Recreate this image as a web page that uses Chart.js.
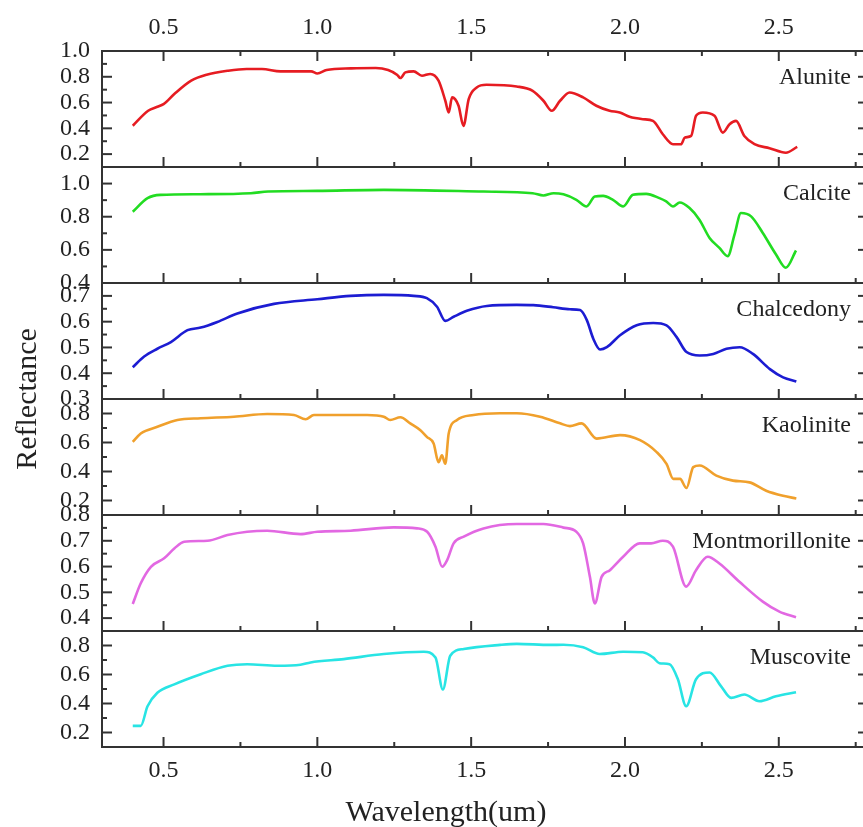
<!DOCTYPE html>
<html>
<head>
<meta charset="utf-8">
<title>Mineral reflectance spectra</title>
<script src="https://cdn.jsdelivr.net/npm/chart.js@4.4.1/dist/chart.umd.min.js"></script>
<style>
  html, body { margin: 0; padding: 0; background: #fff; overflow: hidden; }
  #wrap { position: relative; width: 863px; height: 827px; overflow: hidden; }
  canvas { display: block; }
</style>
</head>
<body>
<div id="wrap"><canvas id="chart" width="880" height="827"></canvas></div>
<script>
//////////////////////
// Spectra (wavelength in um, reflectance)
//////////////////////
const minerals = ['Alunite', 'Calcite', 'Chalcedony', 'Kaolinite', 'Montmorillonite', 'Muscovite'];
const lineColors = ['#e61c22', '#22dc22', '#1c1cd2', '#f0a02c', '#e268e2', '#28e4e4'];

const alunite_wl = [0.40, 0.45, 0.48, 0.50, 0.535, 0.59, 0.64, 0.71, 0.77, 0.82, 0.88, 0.95, 0.98, 1.00, 1.03, 1.11, 1.19, 1.23, 1.26, 1.27, 1.286, 1.313, 1.34, 1.367, 1.394, 1.416, 1.427, 1.438, 1.459, 1.475, 1.492, 1.518, 1.55, 1.648, 1.70, 1.735, 1.762, 1.789, 1.82, 1.864, 1.907, 1.95, 1.983, 2.015, 2.058, 2.091, 2.123, 2.156, 2.183, 2.194, 2.215, 2.231, 2.253, 2.291, 2.318, 2.34, 2.361, 2.388, 2.421, 2.47, 2.523, 2.56];
const alunite_r  = [0.42, 0.536, 0.567, 0.588, 0.666, 0.77, 0.816, 0.847, 0.86, 0.86, 0.842, 0.842, 0.842, 0.826, 0.852, 0.865, 0.868, 0.852, 0.814, 0.79, 0.834, 0.842, 0.808, 0.822, 0.77, 0.614, 0.523, 0.64, 0.575, 0.419, 0.627, 0.717, 0.738, 0.725, 0.691, 0.614, 0.536, 0.614, 0.678, 0.64, 0.575, 0.536, 0.523, 0.489, 0.471, 0.458, 0.354, 0.277, 0.277, 0.328, 0.341, 0.497, 0.523, 0.497, 0.367, 0.432, 0.458, 0.341, 0.277, 0.246, 0.211, 0.256];

const calcite_wl = [0.40, 0.448, 0.49, 0.62, 0.784, 0.84, 1.0, 1.216, 1.54, 1.70, 1.735, 1.768, 1.80, 1.842, 1.875, 1.902, 1.929, 1.961, 1.994, 2.026, 2.069, 2.112, 2.134, 2.156, 2.178, 2.21, 2.242, 2.275, 2.307, 2.334, 2.356, 2.377, 2.41, 2.448, 2.491, 2.523, 2.556];
const calcite_r  = [0.83, 0.912, 0.932, 0.936, 0.942, 0.952, 0.956, 0.962, 0.952, 0.942, 0.928, 0.942, 0.935, 0.902, 0.862, 0.922, 0.926, 0.902, 0.862, 0.932, 0.938, 0.912, 0.892, 0.862, 0.886, 0.852, 0.782, 0.672, 0.612, 0.562, 0.692, 0.822, 0.802, 0.702, 0.572, 0.492, 0.596];

const chalcedony_wl = [0.40, 0.437, 0.48, 0.524, 0.578, 0.621, 0.675, 0.74, 0.859, 1.0, 1.108, 1.216, 1.313, 1.356, 1.389, 1.416, 1.443, 1.486, 1.551, 1.648, 1.702, 1.767, 1.821, 1.854, 1.876, 1.897, 1.919, 1.941, 1.984, 2.038, 2.092, 2.135, 2.168, 2.20, 2.243, 2.287, 2.33, 2.373, 2.416, 2.471, 2.514, 2.557];
const chalcedony_r  = [0.423, 0.465, 0.495, 0.521, 0.567, 0.577, 0.599, 0.632, 0.669, 0.687, 0.70, 0.704, 0.70, 0.691, 0.658, 0.603, 0.619, 0.642, 0.661, 0.665, 0.664, 0.656, 0.648, 0.645, 0.606, 0.534, 0.492, 0.501, 0.547, 0.586, 0.595, 0.586, 0.54, 0.482, 0.469, 0.475, 0.495, 0.501, 0.475, 0.416, 0.384, 0.368];

const kaolinite_wl = [0.40, 0.426, 0.48, 0.545, 0.621, 0.729, 0.837, 0.924, 0.962, 0.989, 1.162, 1.216, 1.237, 1.27, 1.302, 1.335, 1.356, 1.378, 1.394, 1.405, 1.416, 1.427, 1.454, 1.508, 1.594, 1.648, 1.724, 1.789, 1.821, 1.859, 1.908, 1.984, 2.049, 2.103, 2.135, 2.157, 2.179, 2.20, 2.222, 2.243, 2.297, 2.351, 2.405, 2.459, 2.514, 2.557];
const kaolinite_r  = [0.604, 0.662, 0.708, 0.755, 0.767, 0.778, 0.797, 0.79, 0.76, 0.79, 0.79, 0.778, 0.755, 0.774, 0.732, 0.685, 0.639, 0.593, 0.464, 0.511, 0.453, 0.662, 0.755, 0.79, 0.802, 0.802, 0.778, 0.732, 0.713, 0.732, 0.627, 0.651, 0.616, 0.534, 0.453, 0.349, 0.349, 0.286, 0.43, 0.441, 0.372, 0.337, 0.325, 0.267, 0.232, 0.214];

const montmorillonite_wl = [0.40, 0.426, 0.459, 0.502, 0.535, 0.567, 0.643, 0.708, 0.772, 0.837, 0.945, 1.0, 1.108, 1.248, 1.324, 1.357, 1.384, 1.406, 1.422, 1.443, 1.476, 1.54, 1.648, 1.735, 1.80, 1.842, 1.864, 1.886, 1.902, 1.924, 1.951, 1.994, 2.048, 2.085, 2.123, 2.156, 2.199, 2.231, 2.269, 2.307, 2.372, 2.448, 2.502, 2.556];
const montmorillonite_r  = [0.455, 0.535, 0.599, 0.632, 0.67, 0.696, 0.70, 0.722, 0.735, 0.739, 0.726, 0.735, 0.739, 0.752, 0.748, 0.735, 0.677, 0.599, 0.625, 0.69, 0.716, 0.748, 0.765, 0.765, 0.751, 0.735, 0.69, 0.56, 0.457, 0.56, 0.586, 0.638, 0.69, 0.69, 0.70, 0.677, 0.522, 0.586, 0.638, 0.612, 0.541, 0.464, 0.425, 0.403];

const muscovite_wl = [0.40, 0.426, 0.448, 0.48, 0.535, 0.621, 0.708, 0.772, 0.87, 0.945, 0.978, 1.086, 1.216, 1.346, 1.384, 1.408, 1.432, 1.476, 1.594, 1.648, 1.757, 1.80, 1.864, 1.918, 1.994, 2.058, 2.091, 2.112, 2.145, 2.172, 2.199, 2.231, 2.275, 2.312, 2.345, 2.388, 2.437, 2.491, 2.556];
const muscovite_r  = [0.246, 0.246, 0.381, 0.474, 0.532, 0.602, 0.66, 0.671, 0.66, 0.667, 0.683, 0.706, 0.741, 0.757, 0.718, 0.497, 0.729, 0.776, 0.804, 0.811, 0.804, 0.805, 0.788, 0.741, 0.757, 0.753, 0.718, 0.678, 0.671, 0.567, 0.381, 0.567, 0.614, 0.52, 0.439, 0.462, 0.416, 0.45, 0.478];

const wavelengths = [alunite_wl, calcite_wl, chalcedony_wl, kaolinite_wl, montmorillonite_wl, muscovite_wl];
const reflectances = [alunite_r, calcite_r, chalcedony_r, kaolinite_r, montmorillonite_r, muscovite_r];

//////////////////////
// Axis ranges and ticks
//////////////////////
const xMin = 0.3, xMax = 2.79;
const xMajorTicks = [0.5, 1.0, 1.5, 2.0, 2.5];
const xMinorTicks = [0.75, 1.25, 1.75, 2.25, 2.75];

// one entry per panel, top to bottom
const yMin = [0.1, 0.4, 0.3, 0.1, 0.35, 0.1];
const yMax = [1.0, 1.1, 0.75, 0.9, 0.8, 0.9];
const yMajorTicks = [
    [0.2, 0.4, 0.6, 0.8, 1.0],
    [0.4, 0.6, 0.8, 1.0],
    [0.3, 0.4, 0.5, 0.6, 0.7],
    [0.2, 0.4, 0.6, 0.8],
    [0.4, 0.5, 0.6, 0.7, 0.8],
    [0.2, 0.4, 0.6, 0.8]
];
const yMinorTicks = [
    [0.3, 0.5, 0.7, 0.9],
    [0.5, 0.7, 0.9, 1.1],
    [0.35, 0.45, 0.55, 0.65, 0.75],
    [0.3, 0.5, 0.7],
    [0.45, 0.55, 0.65, 0.75],
    [0.3, 0.5, 0.7]
];

//////////////////////
// Look
//////////////////////
const serif = '"Liberation Serif", "Times New Roman", serif';
const inkColor = '#222';
const frameColor = '#333';
const majorLen = 10, minorLen = 5;

function setTicks(scale, majors, minors) {
    scale.ticks = majors.map(v => ({ value: v }))
        .concat(minors.map(v => ({ value: v, isMinor: true })))
        .sort((a, b) => a.value - b.value);
}

function tickLabel(value, index, ticks) {
    return ticks[index].isMinor ? '' : value.toFixed(1);
}

//////////////////////
// Scales: shared wavelength axis plus one stacked y axis per mineral
//////////////////////
const tickFont = { family: serif, size: 24 };

const scales = {
    x: {
        type: 'linear', position: 'bottom', min: xMin, max: xMax,
        afterBuildTicks: s => setTicks(s, xMajorTicks, xMinorTicks),
        afterFit: s => { s.height = 80; },
        grid: { display: false, drawTicks: false }, border: { display: false },
        ticks: { font: tickFont, color: inkColor, padding: 9, autoSkip: false, maxRotation: 0, callback: tickLabel }
    },
    xTop: {
        type: 'linear', position: 'top', min: xMin, max: xMax,
        afterBuildTicks: s => setTicks(s, xMajorTicks, xMinorTicks),
        afterFit: s => { s.height = 51; },
        grid: { display: false, drawTicks: false }, border: { display: false },
        ticks: { font: tickFont, color: inkColor, padding: 9, autoSkip: false, maxRotation: 0, callback: tickLabel }
    }
};

minerals.forEach((name, i) => {
    scales['y' + i] = {
        type: 'linear', position: 'left',
        stack: 'panels', stackWeight: 1, weight: minerals.length - i,
        min: yMin[i], max: yMax[i],
        afterBuildTicks: s => setTicks(s, yMajorTicks[i], yMinorTicks[i]),
        afterFit: s => { s.width = 102; },
        grid: { display: false, drawTicks: false }, border: { display: false },
        ticks: { font: tickFont, color: inkColor, padding: 12, autoSkip: false, callback: tickLabel }
    };
});

const datasets = minerals.map((name, i) => ({
    label: name,
    data: wavelengths[i].map((w, k) => ({ x: w, y: reflectances[i][k] })),
    xAxisID: 'x',
    yAxisID: 'y' + i,
    borderColor: lineColors[i],
    borderWidth: 2.6,
    pointRadius: 0,
    cubicInterpolationMode: 'monotone',
    fill: false
}));

//////////////////////
// Frame, inward tick marks, panel names and axis titles
//////////////////////
function seg(ctx, x1, y1, x2, y2) {
    ctx.beginPath();
    ctx.moveTo(x1, y1);
    ctx.lineTo(x2, y2);
    ctx.stroke();
}

const panelFrame = {
    id: 'panelFrame',
    afterDatasetsDraw(chart) {
        const { ctx, chartArea } = chart;
        const { left, right, top, bottom } = chartArea;
        const xs = chart.scales.x;

        ctx.save();
        ctx.strokeStyle = frameColor;
        ctx.lineWidth = 2;
        ctx.strokeRect(left, top, right - left, bottom - top);

        // ticks on the top edge
        xs.ticks.forEach(t => {
            const px = xs.getPixelForValue(t.value);
            seg(ctx, px, top, px, top + (t.isMinor ? minorLen : majorLen));
        });

        minerals.forEach((name, i) => {
            const ys = chart.scales['y' + i];
            seg(ctx, left, ys.bottom, right, ys.bottom);

            ys.ticks.forEach(t => {
                const py = ys.getPixelForValue(t.value);
                const len = t.isMinor ? minorLen : majorLen;
                seg(ctx, left, py, left + len, py);
                seg(ctx, right - len, py, right, py);
            });

            xs.ticks.forEach(t => {
                const px = xs.getPixelForValue(t.value);
                seg(ctx, px, ys.bottom, px, ys.bottom - (t.isMinor ? minorLen : majorLen));
            });

            ctx.fillStyle = inkColor;
            ctx.font = '24px ' + serif;
            ctx.textAlign = 'right';
            ctx.textBaseline = 'alphabetic';
            ctx.fillText(name, 851, ys.top + 33);
        });

        // axis titles
        ctx.fillStyle = inkColor;
        ctx.font = '30px ' + serif;
        ctx.textAlign = 'center';
        ctx.textBaseline = 'alphabetic';
        ctx.fillText('Wavelength(um)', 446, 821);

        ctx.translate(36, (top + bottom) / 2);
        ctx.rotate(-Math.PI / 2);
        ctx.fillText('Reflectance', 0, 0);
        ctx.restore();
    }
};

new Chart(document.getElementById('chart'), {
    type: 'line',
    data: { datasets },
    options: {
        responsive: false,
        animation: false,
        layout: { padding: { left: 0, right: 12, top: 0, bottom: 0 } },
        plugins: { legend: { display: false }, tooltip: { enabled: false } },
        scales
    },
    plugins: [panelFrame]
});
</script>
</body>
</html>
